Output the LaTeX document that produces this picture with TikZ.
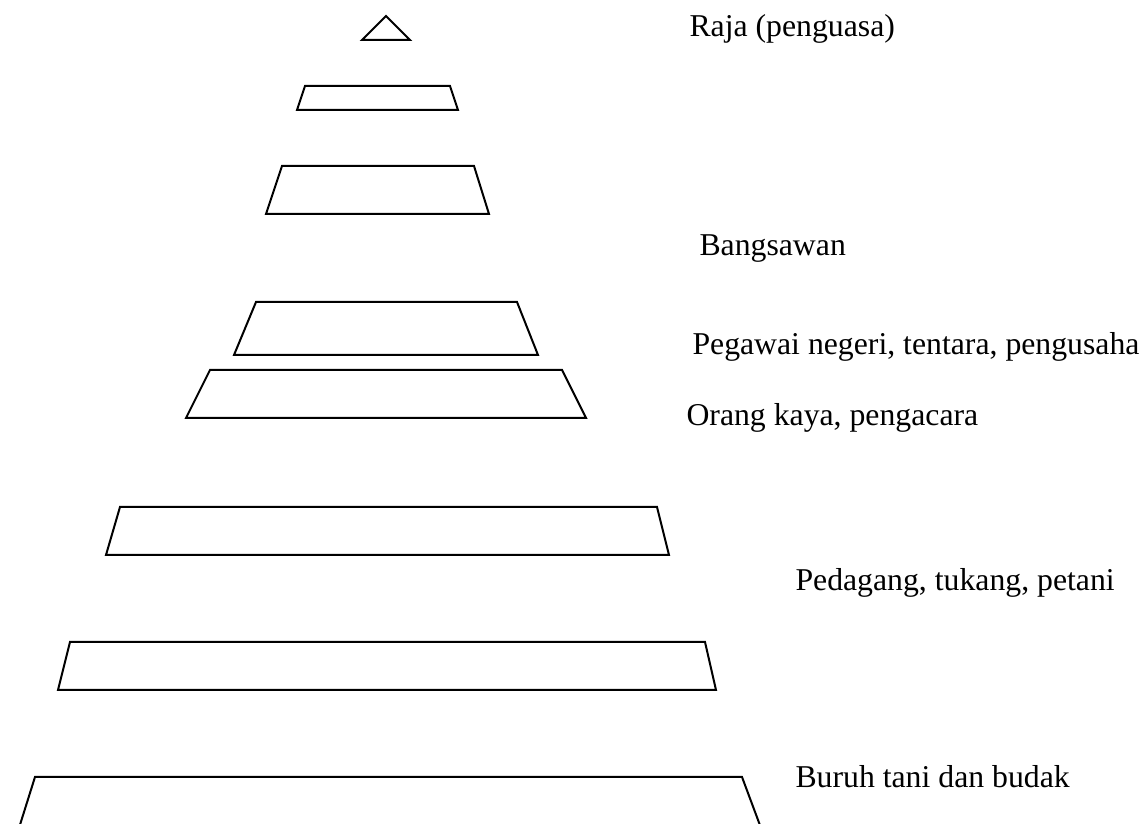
\documentclass[tikz,border=0pt]{standalone}
\usepackage{fontspec}
\setmainfont{Liberation Serif}
\begin{document}
\begin{tikzpicture}[x=0.4pt, y=-0.4pt,
    layer/.style={draw, line width=0.8pt},
    stratum/.style={anchor=base west, inner sep=0pt, font=\fontsize{12.7}{15}\selectfont}]
  \useasboundingbox (0,0) rectangle (1147,824);
  % puncak
  \draw[layer] (362,40) -- (386,16) -- (410,40) -- cycle;
  % lapisan
  \foreach \tl/\tr/\bl/\br/\t/\b in {305/450/297/458/86/110, 282/474/266/489/166/214,
      256/517/234/538/302/355, 210/562/186/586/370/418, 120/657/106/669/507/555,
      70/705/58/716/642/690}
    \draw[layer] (\tl,\t) -- (\tr,\t) -- (\br,\b) -- (\bl,\b) -- cycle;
  \draw[layer] (19,828) -- (35,777) -- (742,777) -- (761,828);
  % keterangan
  \node[stratum] (raja) at (689,37) {Raja (penguasa)};
  \node[stratum] (bangsawan) at (699,256) {Bangsawan};
  \node[stratum] (pegawai) at (692,355) {Pegawai negeri, tentara, pengusaha};
  \node[stratum] (kaya) at (686,426) {Orang kaya, pengacara};
  \node[stratum] (pedagang) at (795,591) {Pedagang, tukang, petani};
  \node[stratum] (buruh) at (795,788) {Buruh tani dan budak};
\end{tikzpicture}
\end{document}
